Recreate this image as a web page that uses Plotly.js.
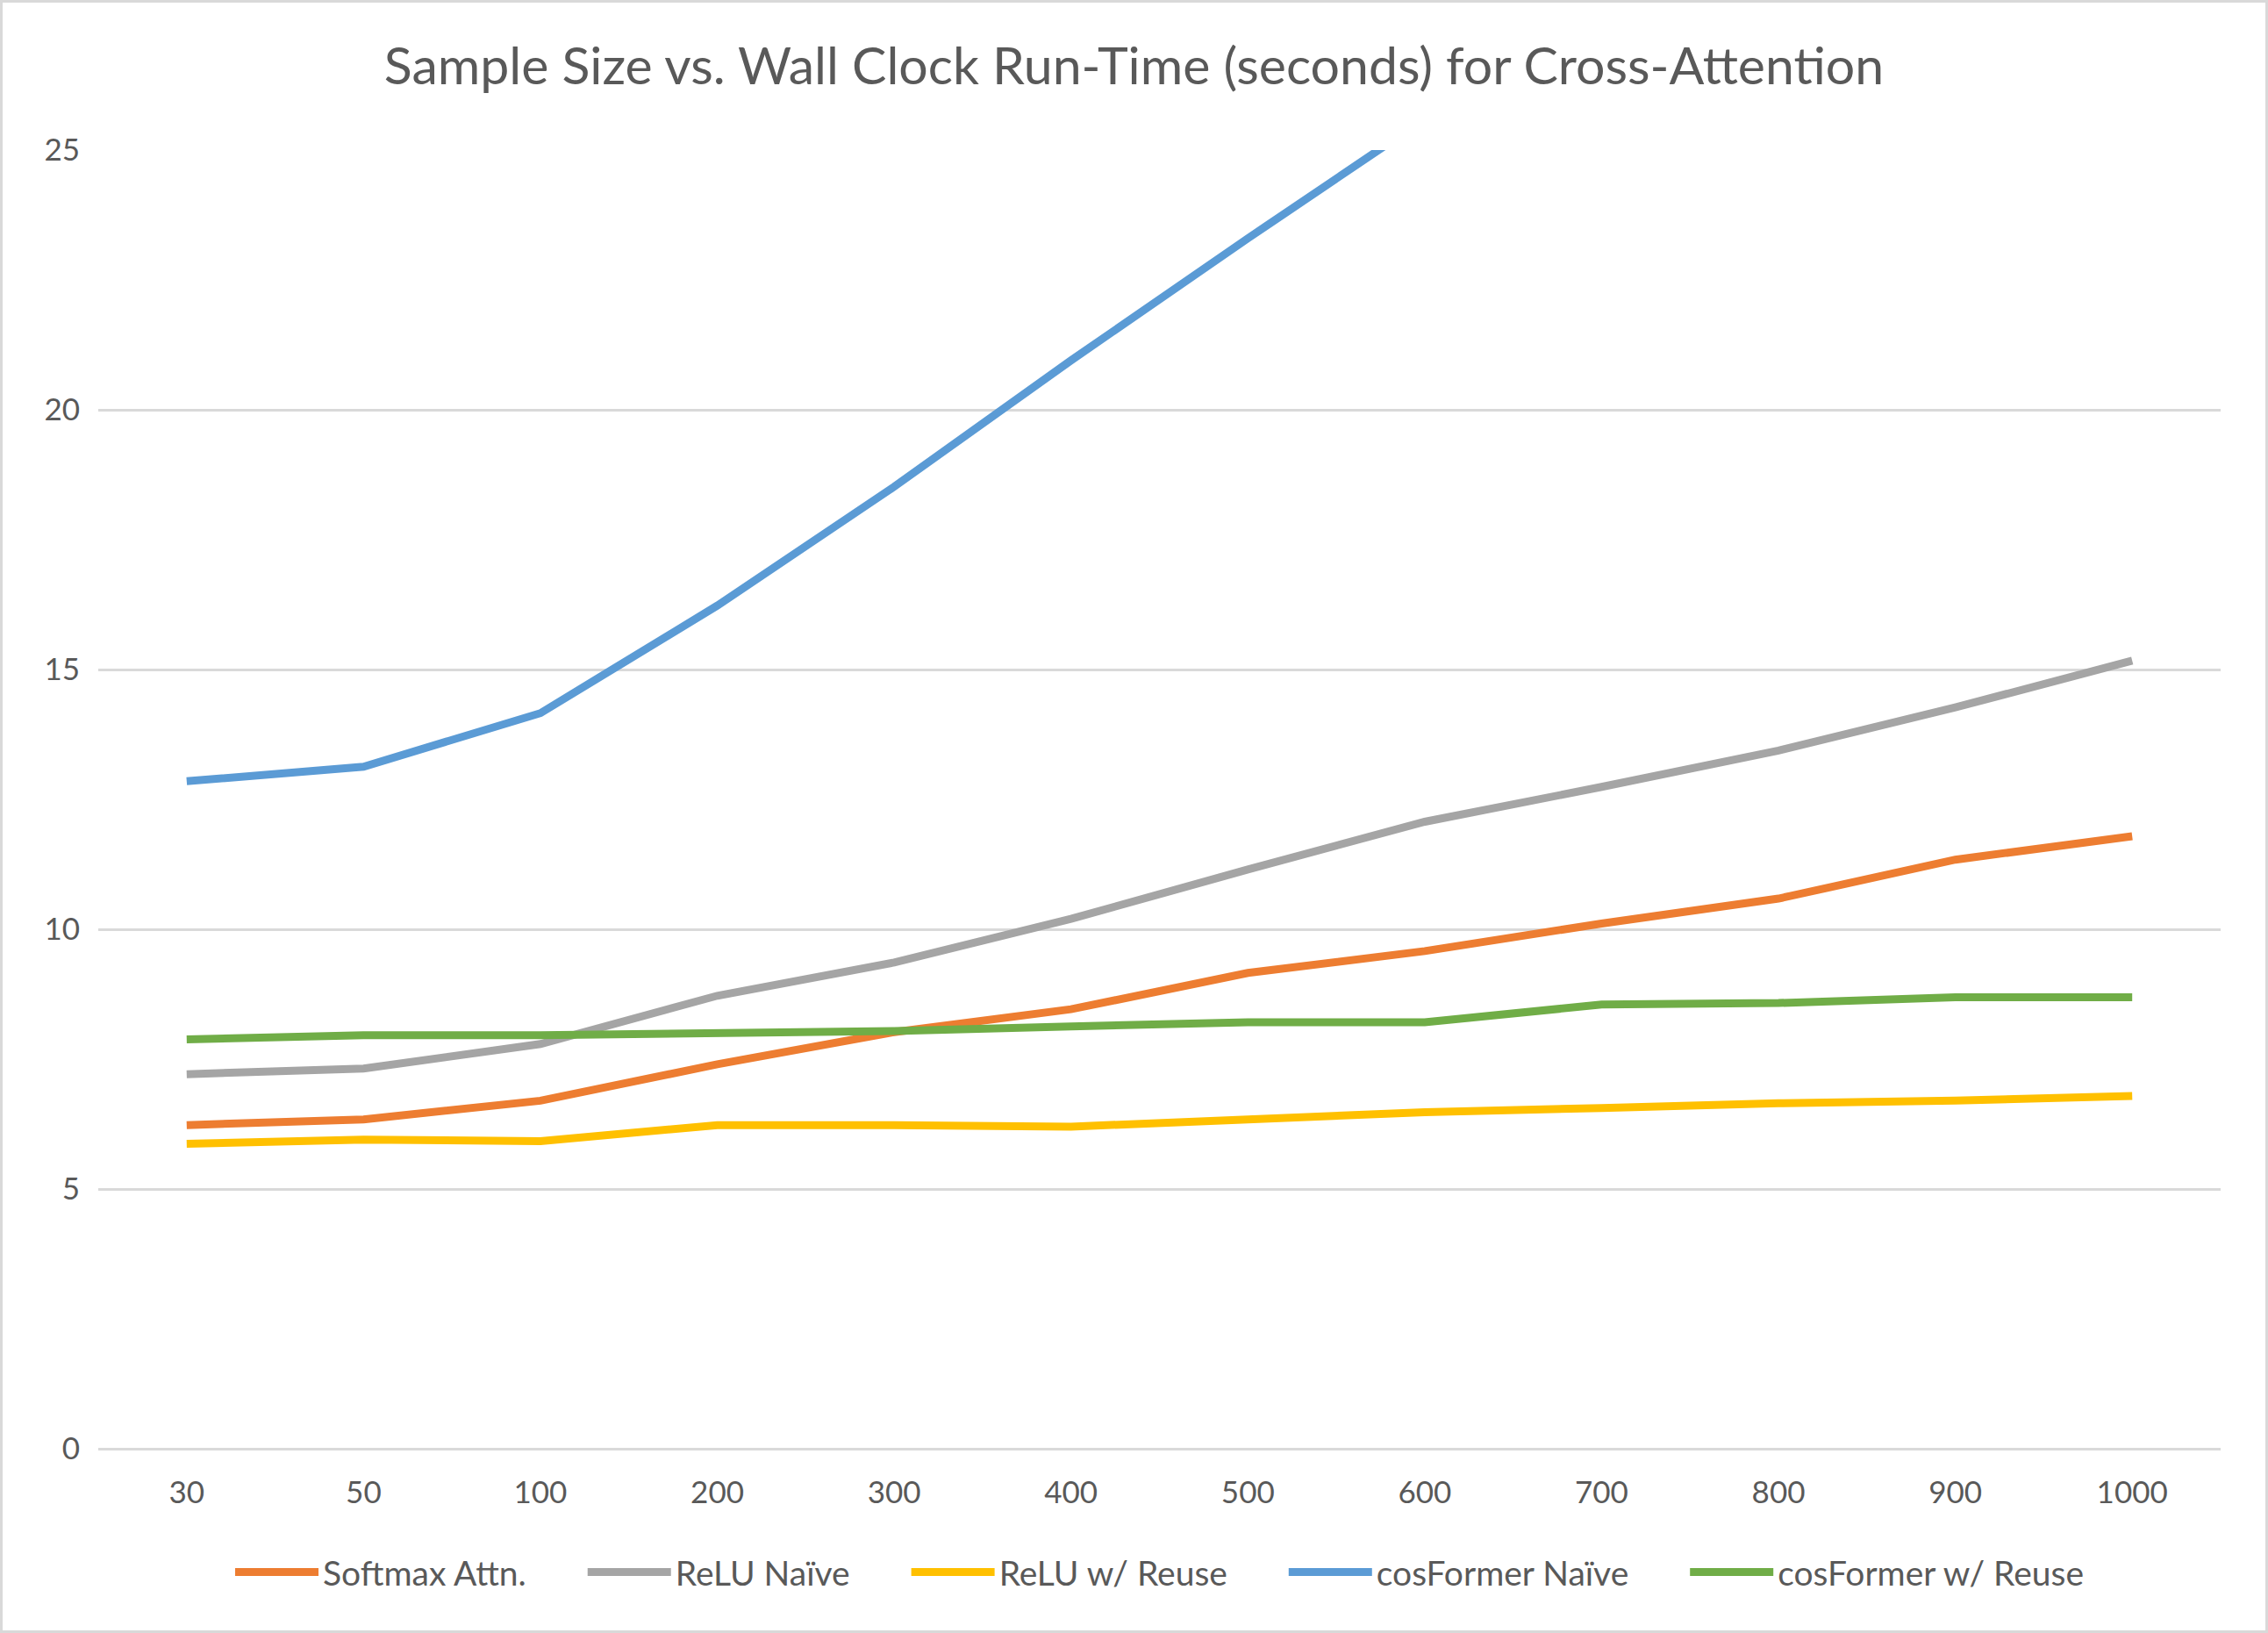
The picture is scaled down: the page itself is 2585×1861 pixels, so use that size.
<!DOCTYPE html>
<html>
<head>
<meta charset="utf-8">
<script src="https://cdn.plot.ly/plotly-3.0.1.min.js"></script>
<style>
  html, body { margin: 0; padding: 0; background: #fff; }
  #chart { width: 2585px; height: 1861px; box-sizing: border-box; border: 3px solid #d9d9d9; }
</style>
</head>
<body>
<div id="chart"></div>
<script>
const sampleSizes = ["30", "50", "100", "200", "300", "400", "500", "600", "700", "800", "900", "1000"];

const softmaxAttn = [6.23, 6.34, 6.70, 7.40, 8.02, 8.46, 9.16, 9.58, 10.11, 10.59, 11.34, 11.79];
const reluNaive = [7.21, 7.32, 7.79, 8.72, 9.36, 10.20, 11.15, 12.07, 12.74, 13.44, 14.27, 15.17];
const reluReuse = [5.87, 5.95, 5.92, 6.23, 6.23, 6.20, 6.34, 6.48, 6.56, 6.65, 6.70, 6.79];
// values past 600 run off the top of the chart
const cosNaive = [12.85, 13.13, 14.16, 16.23, 18.52, 20.95, 23.30, 25.60, 27.9, 30.2, 32.5, 34.8];
const cosReuse = [7.88, 7.96, 7.96, 7.99, 8.04, 8.13, 8.21, 8.21, 8.55, 8.58, 8.69, 8.69];

const series = [
  { name: "Softmax Attn.", y: softmaxAttn, color: "#ED7D31" },
  { name: "ReLU Naïve", y: reluNaive, color: "#A5A5A5" },
  { name: "ReLU w/ Reuse", y: reluReuse, color: "#FFC000" },
  { name: "cosFormer Naïve", y: cosNaive, color: "#5B9BD5" },
  { name: "cosFormer w/ Reuse", y: cosReuse, color: "#70AD47" }
];

// pad legend entries so they sit apart like the original
const pad = "\u00a0".repeat(6);

const traces = series.map((s, i) => ({
  x: sampleSizes,
  y: s.y,
  name: i < series.length - 1 ? s.name + pad : s.name,
  type: "scatter",
  mode: "lines",
  line: { color: s.color, width: 9 }
}));

const font = "Lato, 'Open Sans', sans-serif";

Plotly.newPlot("chart", traces, {
  width: 2579,
  height: 1855,
  paper_bgcolor: "#fff",
  plot_bgcolor: "#fff",
  margin: { l: 109, r: 51, t: 168, b: 207 },
  font: { family: font, color: "#595959", size: 35 },
  title: {
    text: "Sample Size vs. Wall Clock Run-Time (seconds) for Cross-Attention",
    font: { family: font, size: 59, color: "#595959" },
    x: 0.5,
    xanchor: "center",
    y: 0.961,
    yanchor: "middle"
  },
  xaxis: {
    type: "category",
    range: [-0.5, 11.5],
    showgrid: false,
    showline: false,
    ticks: "",
    ticklabelstandoff: 26,
    tickfont: { size: 35, color: "#595959" }
  },
  yaxis: {
    range: [0, 25],
    dtick: 5,
    gridcolor: "#d9d9d9",
    gridwidth: 3,
    zeroline: true,
    zerolinecolor: "#d9d9d9",
    zerolinewidth: 3,
    showline: false,
    ticks: "",
    ticklabelstandoff: 20,
    tickfont: { size: 35, color: "#595959" }
  },
  legend: {
    orientation: "h",
    x: 0.5,
    xanchor: "center",
    y: -0.095,
    yanchor: "middle",
    font: { size: 39, color: "#595959" },
    itemwidth: 95
  },
  showlegend: true
}, { displayModeBar: false });
</script>
</body>
</html>
